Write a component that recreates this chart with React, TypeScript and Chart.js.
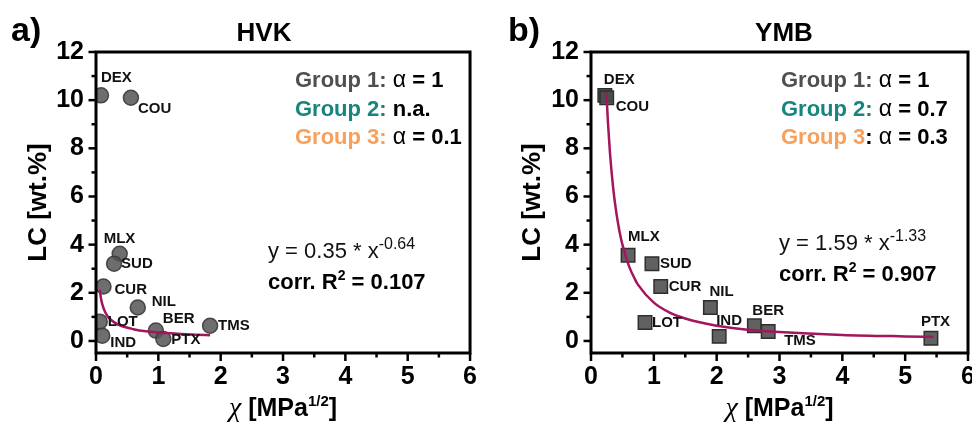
import React, { useEffect, useRef } from 'react';
import { Chart, registerables } from 'chart.js';
Chart.register(...registerables);

// ---- data ----
const compounds = ['DEX', 'COU', 'MLX', 'SUD', 'CUR', 'NIL', 'LOT', 'IND', 'BER', 'PTX', 'TMS'];
const hvkChi = [0.08, 0.56, 0.38, 0.29, 0.12, 0.67, 0.06, 0.1, 0.96, 1.08, 1.83];
const hvkLC = [10.2, 10.1, 3.62, 3.21, 2.26, 1.39, 0.8, 0.22, 0.43, 0.08, 0.63];
const ymbChi = [0.22, 0.25, 0.59, 0.97, 1.11, 1.9, 0.86, 2.04, 2.6, 5.41, 2.82];
const ymbLC = [10.2, 10.1, 3.56, 3.21, 2.26, 1.39, 0.77, 0.19, 0.63, 0.11, 0.39];

const hvkFitChi = [0.06, 0.08, 0.1, 0.15, 0.2, 0.3, 0.4, 0.6, 0.8, 1.0, 1.3, 1.6, 1.83];
const hvkFitLC = [2.12, 1.76, 1.53, 1.18, 0.98, 0.76, 0.63, 0.49, 0.4, 0.35, 0.3, 0.26, 0.24];
const ymbFitChi = [0.245, 0.27, 0.3, 0.35, 0.4, 0.45, 0.5, 0.6, 0.7, 0.75, 1.0, 1.25, 1.5, 2.0, 2.5, 3.0, 4.0, 5.0, 5.45];
const ymbFitLC = [10.3, 9.07, 7.88, 6.42, 5.38, 4.6, 4.0, 3.14, 2.56, 2.33, 1.59, 1.18, 0.93, 0.63, 0.47, 0.37, 0.25, 0.19, 0.17];

const xTickValues = [0, 1, 2, 3, 4, 5, 6];
const yTickValues = [0, 2, 4, 6, 8, 10, 12];

// label offsets (px) relative to each marker, same order as compounds
const hvkLabelOffsets = [[0, -17], [7, 11], [-16, -15], [7, 0], [11, 3], [14, -6], [8, 0], [8, 7], [7, -12], [8, 1], [8, 0]];
const ymbLabelOffsets = [[-1, -15], [9, 9], [0, -18], [8, 0], [8, 0], [-1, -16], [7, 0], [-3, -16], [-2, -15], [-10, -16], [16, 9]];

const FF = "'Liberation Sans', Arial, sans-serif";
const G1 = '#4f4f4f';
const G2 = '#16857d';
const G3 = '#f7a05c';
const FIT = '#a3155c';

type Run = { t: string; f: string; c?: string; dy?: number };

function drawRuns(ctx: CanvasRenderingContext2D, x: number, y: number, runs: Run[], align: 'left' | 'center' = 'left') {
  ctx.save();
  ctx.textBaseline = 'alphabetic';
  ctx.textAlign = 'left';
  let total = 0;
  for (const r of runs) { ctx.font = r.f; total += ctx.measureText(r.t).width; }
  let cx = align === 'center' ? x - total / 2 : x;
  for (const r of runs) {
    ctx.font = r.f;
    ctx.fillStyle = r.c || '#000';
    ctx.fillText(r.t, cx, y + (r.dy || 0));
    cx += ctx.measureText(r.t).width;
  }
  ctx.restore();
}

type PanelCfg = {
  letter: string; title: string; titleX: number;
  chi: number[]; lc: number[]; fitChi: number[]; fitLC: number[];
  offsets: number[][]; pointStyle: string; radius: number;
  yAxisWidth: number; padRight: number; width: number;
  legend: Run[][]; legendX: number; eq: Run[][]; eqX: number; eqY: number;
  yTitleX: number; letterX: number;
  markerFill: string; markerBorder: string;
};

const bold = (s: number) => `bold ${s}px ${FF}`;
const reg = (s: number) => `${s}px ${FF}`;

const hvkCfg: PanelCfg = {
  letter: 'a)', title: 'HVK', titleX: 264,
  chi: hvkChi, lc: hvkLC, fitChi: hvkFitChi, fitLC: hvkFitLC,
  offsets: hvkLabelOffsets, pointStyle: 'circle', radius: 7.5,
  yAxisWidth: 96, padRight: 14, width: 486,
  legend: [
    [{ t: 'Group 1:', f: bold(22), c: G1 }, { t: ' ', f: bold(22) }, { t: 'α', f: reg(23) }, { t: ' = 1', f: bold(22) }],
    [{ t: 'Group 2:', f: bold(22), c: G2 }, { t: ' n.a.', f: bold(22) }],
    [{ t: 'Group 3:', f: bold(22), c: G3 }, { t: ' ', f: bold(22) }, { t: 'α', f: reg(23) }, { t: ' = 0.1', f: bold(22) }],
  ],
  legendX: 295,
  eq: [
    [{ t: 'y = 0.35 * x', f: reg(22), c: '#111' }, { t: '-0.64', f: reg(16), c: '#111', dy: -9 }],
    [{ t: 'corr. R', f: bold(22) }, { t: '2', f: bold(14), dy: -9 }, { t: ' = 0.107', f: bold(22) }],
  ],
  eqX: 268, eqY: 258,
  yTitleX: 39, letterX: 11,
  markerFill: 'rgba(85,85,85,0.85)', markerBorder: 'rgba(60,60,60,0.9)',
};

const ymbCfg: PanelCfg = {
  letter: 'b)', title: 'YMB', titleX: 298,
  chi: ymbChi, lc: ymbLC, fitChi: ymbFitChi, fitLC: ymbFitLC,
  offsets: ymbLabelOffsets, pointStyle: 'rect', radius: 9.5,
  yAxisWidth: 105, padRight: 18, width: 500,
  legend: [
    [{ t: 'Group 1:', f: bold(22), c: G1 }, { t: ' ', f: bold(22) }, { t: 'α', f: reg(23) }, { t: ' = 1', f: bold(22) }],
    [{ t: 'Group 2:', f: bold(22), c: G2 }, { t: ' ', f: bold(22) }, { t: 'α', f: reg(23) }, { t: ' = 0.7', f: bold(22) }],
    [{ t: 'Group 3', f: bold(22), c: G3 }, { t: ':', f: bold(22) }, { t: ' ', f: bold(22) }, { t: 'α', f: reg(23) }, { t: ' = 0.3', f: bold(22) }],
  ],
  legendX: 295,
  eq: [
    [{ t: 'y = 1.59 * x', f: reg(22), c: '#111' }, { t: '-1.33', f: reg(16), c: '#111', dy: -9 }],
    [{ t: 'corr. R', f: bold(22) }, { t: '2', f: bold(14), dy: -9 }, { t: ' = 0.907', f: bold(22) }],
  ],
  eqX: 293, eqY: 250,
  yTitleX: 47, letterX: 22,
  markerFill: 'rgba(75,75,75,0.88)', markerBorder: '#2e2e2e',
};

function Panel({ cfg, left }: { cfg: PanelCfg; left: number }) {
  const ref = useRef<HTMLCanvasElement | null>(null);
  useEffect(() => {
    if (!ref.current) return;
    const decor = {
      id: 'decor',
      afterDraw(chart: any) {
        const ctx: CanvasRenderingContext2D = chart.ctx;
        const a = chart.chartArea;
        const xs = chart.scales.x;
        const ys = chart.scales.y;
        ctx.save();
        // frame
        ctx.strokeStyle = '#000';
        ctx.lineWidth = 3;
        ctx.strokeRect(a.left, a.top, a.right - a.left, a.bottom - a.top);
        // ticks
        ctx.lineWidth = 2.5;
        for (let v = 0; v <= 6.001; v += 0.5) {
          const px = xs.getPixelForValue(v);
          const len = Math.abs(v - Math.round(v)) < 1e-6 ? 8 : 4.5;
          ctx.beginPath(); ctx.moveTo(px, a.bottom); ctx.lineTo(px, a.bottom + len); ctx.stroke();
        }
        for (let v = 0; v <= 12.001; v += 1) {
          const py = ys.getPixelForValue(v);
          const len = v % 2 === 0 ? 7.5 : 4.5;
          ctx.beginPath(); ctx.moveTo(a.left, py); ctx.lineTo(a.left - len, py); ctx.stroke();
        }
        // point labels
        ctx.font = bold(15);
        ctx.fillStyle = '#111';
        ctx.textAlign = 'left';
        ctx.textBaseline = 'middle';
        compounds.forEach((name, i) => {
          const px = xs.getPixelForValue(cfg.chi[i]) + cfg.offsets[i][0];
          const py = ys.getPixelForValue(cfg.lc[i]) + cfg.offsets[i][1];
          ctx.fillText(name, px, py);
        });
        // legend
        cfg.legend.forEach((runs, i) => drawRuns(ctx, cfg.legendX, 87 + i * 28.5, runs));
        // equation
        cfg.eq.forEach((runs, i) => drawRuns(ctx, cfg.eqX, cfg.eqY + i * 31, runs));
        // title and panel letter
        ctx.fillStyle = '#000';
        ctx.textAlign = 'center';
        ctx.textBaseline = 'alphabetic';
        ctx.font = bold(26);
        ctx.fillText(cfg.title, cfg.titleX, 41);
        ctx.textAlign = 'left';
        ctx.font = bold(34);
        ctx.fillText(cfg.letter, cfg.letterX, 41);
        // y title
        ctx.save();
        ctx.translate(cfg.yTitleX, (a.top + a.bottom) / 2);
        ctx.rotate(-Math.PI / 2);
        ctx.textAlign = 'center';
        ctx.textBaseline = 'middle';
        ctx.font = bold(26);
        ctx.fillText('LC [wt.%]', 0, 0);
        ctx.restore();
        // x title
        drawRuns(ctx, (a.left + a.right) / 2, 416, [
          { t: 'χ', f: "italic 28px 'Liberation Serif', serif" },
          { t: ' [MPa', f: bold(25) },
          { t: '1/2', f: bold(15), dy: -10 },
          { t: ']', f: bold(25) },
        ], 'center');
        ctx.restore();
      },
    };
    const chart = new Chart(ref.current, {
      type: 'scatter',
      data: {
        datasets: [
          {
            label: 'fit',
            data: cfg.fitChi.map((x, i) => ({ x, y: cfg.fitLC[i] })),
            showLine: true,
            borderColor: FIT,
            borderWidth: 2.5,
            pointRadius: 0,
            cubicInterpolationMode: 'monotone',
            fill: false,
          } as any,
          {
            label: 'LC',
            data: cfg.chi.map((x, i) => ({ x, y: cfg.lc[i] })),
            pointStyle: cfg.pointStyle as any,
            pointRadius: cfg.radius,
            backgroundColor: cfg.markerFill,
            borderColor: cfg.markerBorder,
            borderWidth: 1.5,
          } as any,
        ],
      },
      options: {
        responsive: false,
        animation: false,
        devicePixelRatio: 1,
        layout: { padding: { top: 52, right: cfg.padRight, left: 0, bottom: 0 } },
        plugins: { legend: { display: false }, title: { display: false }, tooltip: { enabled: false } },
        scales: {
          x: {
            type: 'linear', min: 0, max: 6,
            grid: { display: false, drawTicks: false },
            border: { display: false },
            afterBuildTicks: (s: any) => { s.ticks = xTickValues.map((v) => ({ value: v })); },
            afterFit: (s: any) => { s.height = 70; },
            ticks: { color: '#000', font: { family: FF, weight: 'bold', size: 25 }, padding: 9 },
          },
          y: {
            type: 'linear', min: -0.5, max: 12,
            grid: { display: false, drawTicks: false },
            border: { display: false },
            afterBuildTicks: (s: any) => { s.ticks = yTickValues.map((v) => ({ value: v })); },
            afterFit: (s: any) => { s.width = cfg.yAxisWidth; },
            ticks: { color: '#000', font: { family: FF, weight: 'bold', size: 25 }, padding: 12 },
          },
        },
      } as any,
      plugins: [decor],
    });
    return () => chart.destroy();
  }, [cfg]);
  return (
    <canvas
      ref={ref}
      width={cfg.width}
      height={423}
      style={{ position: 'absolute', left, top: 0, display: 'block', width: cfg.width, height: 423 }}
    />
  );
}

export default function App() {
  return (
    <div style={{ position: 'absolute', left: 0, top: 0, width: 972, height: 423, overflow: 'hidden', background: '#fff' }}>
      <Panel cfg={hvkCfg} left={0} />
      <Panel cfg={ymbCfg} left={486} />
    </div>
  );
}
